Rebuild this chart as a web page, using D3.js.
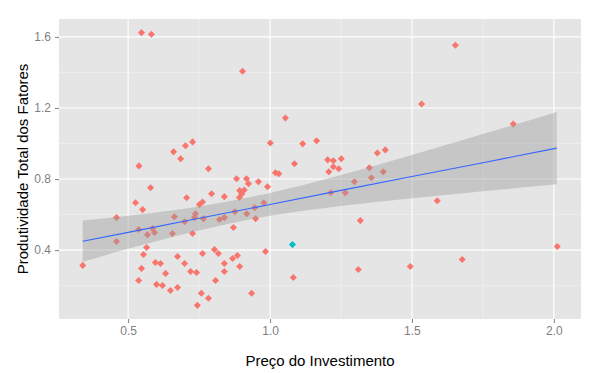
<!DOCTYPE html>
<html>
<head>
<meta charset="utf-8">
<script src="https://cdn.jsdelivr.net/npm/d3@7"></script>
<style>
    body { margin: 0; background: #fff; }
    svg { display: block; font-family: "Liberation Sans", Arial, sans-serif; }
</style>
</head>
<body>
<svg id="chart"></svg>
<script>
// Preco do investimento (x) e PTF (y) - grupo principal
const precoInv = [0.547, 0.582, 0.903, 1.653, 1.534, 1.857, 1.054, 1.001, 0.727, 0.702,
    0.660, 0.685, 0.538, 1.086, 0.783, 0.882, 0.917, 0.924, 0.959, 0.991,
    1.019, 1.031, 0.579, 1.115, 1.164, 1.203, 1.223, 1.251, 1.223, 1.242,
    1.207, 1.378, 1.406, 1.350, 1.399, 1.297, 1.357, 0.893, 0.909, 0.900,
    0.892, 1.214, 1.265, 0.978, 0.946, 0.918, 0.876, 0.706, 0.794, 0.839,
    0.526, 0.551, 0.751, 0.762, 0.737, 0.459, 0.663, 0.699, 0.734, 0.765,
    0.822, 0.839, 0.871, 0.537, 0.568, 0.586, 0.593, 0.656, 0.727, 0.459,
    0.340, 0.565, 0.554, 0.674, 0.762, 0.804, 0.818, 0.868, 0.885, 0.596,
    0.614, 0.699, 0.839, 0.547, 0.632, 0.720, 0.741, 0.839, 0.537, 0.600,
    0.621, 0.808, 0.649, 0.674, 0.758, 0.783, 0.744, 0.949, 1.318, 0.984,
    0.893, 1.082, 1.311, 0.935, 1.589, 2.012, 1.677, 1.494];
const ptf = [1.624, 1.615, 1.407, 1.553, 1.222, 1.110, 1.144, 1.003, 1.009, 0.987,
    0.953, 0.914, 0.874, 0.886, 0.858, 0.802, 0.802, 0.774, 0.785, 0.757,
    0.835, 0.830, 0.751, 0.998, 1.015, 0.908, 0.903, 0.914, 0.869, 0.858,
    0.841, 0.947, 0.964, 0.863, 0.841, 0.785, 0.807, 0.735, 0.738, 0.716,
    0.696, 0.723, 0.723, 0.667, 0.639, 0.605, 0.616, 0.695, 0.717, 0.701,
    0.667, 0.628, 0.656, 0.671, 0.604, 0.583, 0.588, 0.560, 0.583, 0.577,
    0.572, 0.583, 0.527, 0.516, 0.487, 0.521, 0.499, 0.493, 0.493, 0.448,
    0.314, 0.415, 0.375, 0.364, 0.381, 0.403, 0.381, 0.353, 0.370, 0.330,
    0.325, 0.325, 0.325, 0.297, 0.269, 0.280, 0.274, 0.280, 0.229, 0.207,
    0.201, 0.229, 0.173, 0.190, 0.157, 0.129, 0.089, 0.577, 0.566, 0.392,
    0.308, 0.246, 0.291, 0.157, 0.678, 0.420, 0.347, 0.308];

// o ponto azul (outro grupo)
const precoInvB = [1.079];
const ptfB = [0.431];

// reta de regressao e intervalo de confianca
const fitX = [0.34, 0.5, 0.75, 1.0, 1.25, 1.5, 1.75, 2.01];
const fitY = [0.450, 0.500, 0.579, 0.657, 0.736, 0.814, 0.892, 0.974];
const fitLower = [0.334, 0.407, 0.511, 0.593, 0.648, 0.692, 0.731, 0.770];
const fitUpper = [0.566, 0.594, 0.646, 0.722, 0.823, 0.936, 1.053, 1.178];

// ticks
const xTicks = [0.5, 1.0, 1.5, 2.0];
const xMinor = [0.25, 0.75, 1.25, 1.75];
const yTicks = [0.4, 0.8, 1.2, 1.6];
const yMinor = [0.2, 0.6, 1.0, 1.4];

const W = 601, H = 373;
const margin = { top: 19, right: 20, bottom: 54, left: 59 };
const width = W - margin.left - margin.right;
const height = H - margin.top - margin.bottom;

const svg = d3.select("#chart").attr("width", W).attr("height", H);

// ggplot style expansion (5% each side)
const allX = precoInv.concat(precoInvB), allY = ptf.concat(ptfB);
const xExt = d3.extent(allX), yExt = d3.extent(allY);
const xPad = (xExt[1] - xExt[0]) * 0.05, yPad = (yExt[1] - yExt[0]) * 0.05;

const x = d3.scaleLinear().domain([xExt[0] - xPad, xExt[1] + xPad]).range([0, width]);
const y = d3.scaleLinear().domain([yExt[0] - yPad, yExt[1] + yPad]).range([height, 0]);

const g = svg.append("g").attr("transform", `translate(${margin.left},${margin.top})`);

// panel background
g.append("rect").attr("width", width).attr("height", height).attr("fill", "#E5E5E5");

// minor grid
g.selectAll(".xminor").data(xMinor.filter(v => v > x.domain()[0])).enter().append("line")
    .attr("x1", d => x(d)).attr("x2", d => x(d)).attr("y1", 0).attr("y2", height)
    .attr("stroke", "#F2F2F2").attr("stroke-width", 0.6);
g.selectAll(".yminor").data(yMinor).enter().append("line")
    .attr("y1", d => y(d)).attr("y2", d => y(d)).attr("x1", 0).attr("x2", width)
    .attr("stroke", "#F2F2F2").attr("stroke-width", 0.6);

// major grid
g.selectAll(".xmajor").data(xTicks).enter().append("line")
    .attr("x1", d => x(d)).attr("x2", d => x(d)).attr("y1", 0).attr("y2", height)
    .attr("stroke", "#fff").attr("stroke-width", 1.1);
g.selectAll(".ymajor").data(yTicks).enter().append("line")
    .attr("y1", d => y(d)).attr("y2", d => y(d)).attr("x1", 0).attr("x2", width)
    .attr("stroke", "#fff").attr("stroke-width", 1.1);

// points (diamonds)
const diamond = d3.symbol().type(d3.symbolSquare).size(25);
const ptsA = precoInv.map((v, i) => [v, ptf[i]]);
const ptsB = precoInvB.map((v, i) => [v, ptfB[i]]);

g.selectAll(".ptA").data(ptsA).enter().append("path")
    .attr("d", diamond)
    .attr("transform", d => `translate(${x(d[0])},${y(d[1])}) rotate(45)`)
    .attr("fill", "#F8766D");
g.selectAll(".ptB").data(ptsB).enter().append("path")
    .attr("d", diamond)
    .attr("transform", d => `translate(${x(d[0])},${y(d[1])}) rotate(45)`)
    .attr("fill", "#00BFC4");

// confidence band on top of points
const band = d3.area()
    .x((d, i) => x(fitX[i]))
    .y0((d, i) => y(fitLower[i]))
    .y1((d, i) => y(fitUpper[i]))
    .curve(d3.curveMonotoneX);
g.append("path").datum(fitX).attr("d", band)
    .attr("fill", "#999999").attr("fill-opacity", 0.4);

const line = d3.line()
    .x((d, i) => x(fitX[i]))
    .y((d, i) => y(fitY[i]));
g.append("path").datum(fitX).attr("d", line)
    .attr("fill", "none").attr("stroke", "#3366FF").attr("stroke-width", 1.1);

// axes
const xAxis = g.append("g").attr("transform", `translate(0,${height})`)
    .call(d3.axisBottom(x).tickValues(xTicks).tickFormat(d3.format(".1f")).tickSize(4).tickPadding(3));
const yAxis = g.append("g")
    .call(d3.axisLeft(y).tickValues(yTicks).tickFormat(d3.format(".1f")).tickSize(4).tickPadding(4));

[xAxis, yAxis].forEach(a => {
    a.select(".domain").remove();
    a.selectAll("line").attr("stroke", "#7F7F7F");
    a.selectAll("text").attr("fill", "#7F7F7F").style("font-size", "12px")
        .style("font-family", "'Liberation Sans', Arial, sans-serif");
});

// axis titles
svg.append("text")
    .attr("x", margin.left + width / 2).attr("y", 366)
    .attr("text-anchor", "middle").style("font-size", "15px").attr("fill", "#000")
    .text("Preço do Investimento");
svg.append("text")
    .attr("transform", `translate(28,${margin.top + height / 2}) rotate(-90)`)
    .attr("text-anchor", "middle").style("font-size", "15px").attr("fill", "#000")
    .text("Produtividade Total dos Fatores");
</script>
</body>
</html>
